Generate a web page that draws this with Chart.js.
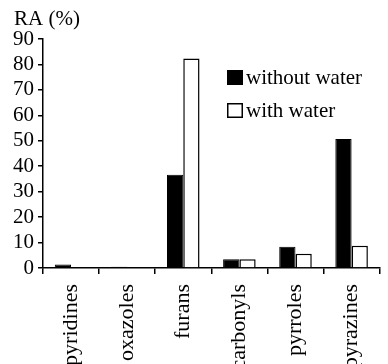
<!DOCTYPE html>
<html>
<head>
<meta charset="utf-8">
<script src="https://cdn.jsdelivr.net/npm/chart.js@4/dist/chart.umd.min.js"></script>
<style>
  html, body { margin: 0; padding: 0; background: #fff; overflow: hidden; }
  #wrap { width: 388px; height: 364px; }
</style>
</head>
<body>
<div id="wrap"><canvas id="myChart" width="388" height="364"></canvas></div>
<script>
const categories = ['pyridines', 'oxazoles', 'furans', 'carbonyls', 'pyrroles', 'pyrazines'];
const withoutWater = [1.4, 0.5, 36.6, 3.4, 8.4, 50.7];
const withWater = [0, 0, 82.3, 3.4, 5.6, 8.7];
const seriesNames = ['without water', 'with water'];
const yTicks = [0, 10, 20, 30, 40, 50, 60, 70, 80, 90];
const axisTitle = 'RA (%)';

const serif = '"Liberation Serif", "Times New Roman", serif';

// y axis title drawn above the axis, horizontal
const axisTitlePlugin = {
    id: 'axisTitle',
    afterDraw(chart) {
        const ctx = chart.ctx;
        const area = chart.chartArea;
        ctx.save();
        ctx.font = '21px ' + serif;
        ctx.fillStyle = '#000';
        ctx.textBaseline = 'alphabetic';
        ctx.textAlign = 'left';
        ctx.fillText(axisTitle, area.left - 29, area.top - 14);
        ctx.restore();
    }
};

// legend placed inside the plot, upper right
const boxLegend = {
    id: 'boxLegend',
    afterDraw(chart) {
        const ctx = chart.ctx;
        const area = chart.chartArea;
        const x = area.left + 184;
        let y = 70;
        ctx.save();
        ctx.font = '21px ' + serif;
        ctx.textBaseline = 'middle';
        ctx.textAlign = 'left';
        chart.data.datasets.forEach(function(ds) {
            ctx.fillStyle = ds.backgroundColor;
            ctx.fillRect(x, y, 16, 15);
            ctx.strokeStyle = '#000';
            ctx.lineWidth = 1.5;
            ctx.strokeRect(x + 0.75, y + 0.75, 14.5, 13.5);
            ctx.fillStyle = '#000';
            ctx.fillText(ds.label, x + 19, y + 8);
            y += 33;
        });
        ctx.restore();
    }
};

new Chart('myChart', {
    type: 'bar',
    data: {
        labels: categories,
        datasets: [{
            label: seriesNames[0],
            data: withoutWater,
            backgroundColor: '#000',
            borderColor: '#000',
            borderWidth: 1
        }, {
            label: seriesNames[1],
            data: withWater,
            backgroundColor: '#fff',
            borderColor: '#000',
            borderWidth: 1.5
        }]
    },
    options: {
        responsive: false,
        animation: false,
        layout: { padding: { top: 39, right: 0, left: 0, bottom: 0 } },
        datasets: {
            bar: { categoryPercentage: 0.58, barPercentage: 1.0 }
        },
        plugins: {
            legend: { display: false },
            tooltip: { enabled: false }
        },
        scales: {
            x: {
                grid: {
                    display: true,
                    drawOnChartArea: false,
                    drawTicks: true,
                    tickLength: 6,
                    color: '#000',
                    lineWidth: 1.5
                },
                border: { display: true, color: '#000', width: 1.5 },
                ticks: {
                    autoSkip: false,
                    minRotation: 90,
                    maxRotation: 90,
                    padding: 10,
                    color: '#000',
                    font: { family: serif, size: 22 }
                },
                afterFit(scale) { scale.height = 96; }
            },
            y: {
                min: 0,
                max: 90,
                afterBuildTicks(scale) {
                    scale.ticks = yTicks.map(v => ({ value: v }));
                },
                grid: {
                    display: true,
                    drawOnChartArea: false,
                    drawTicks: true,
                    tickLength: 5,
                    color: '#000',
                    lineWidth: 1.5
                },
                border: { display: true, color: '#000', width: 1.5 },
                ticks: {
                    autoSkip: false,
                    padding: 4,
                    color: '#000',
                    font: { family: serif, size: 21 }
                },
                afterFit(scale) { scale.width = 43; }
            }
        }
    },
    plugins: [axisTitlePlugin, boxLegend]
});
</script>
</body>
</html>
